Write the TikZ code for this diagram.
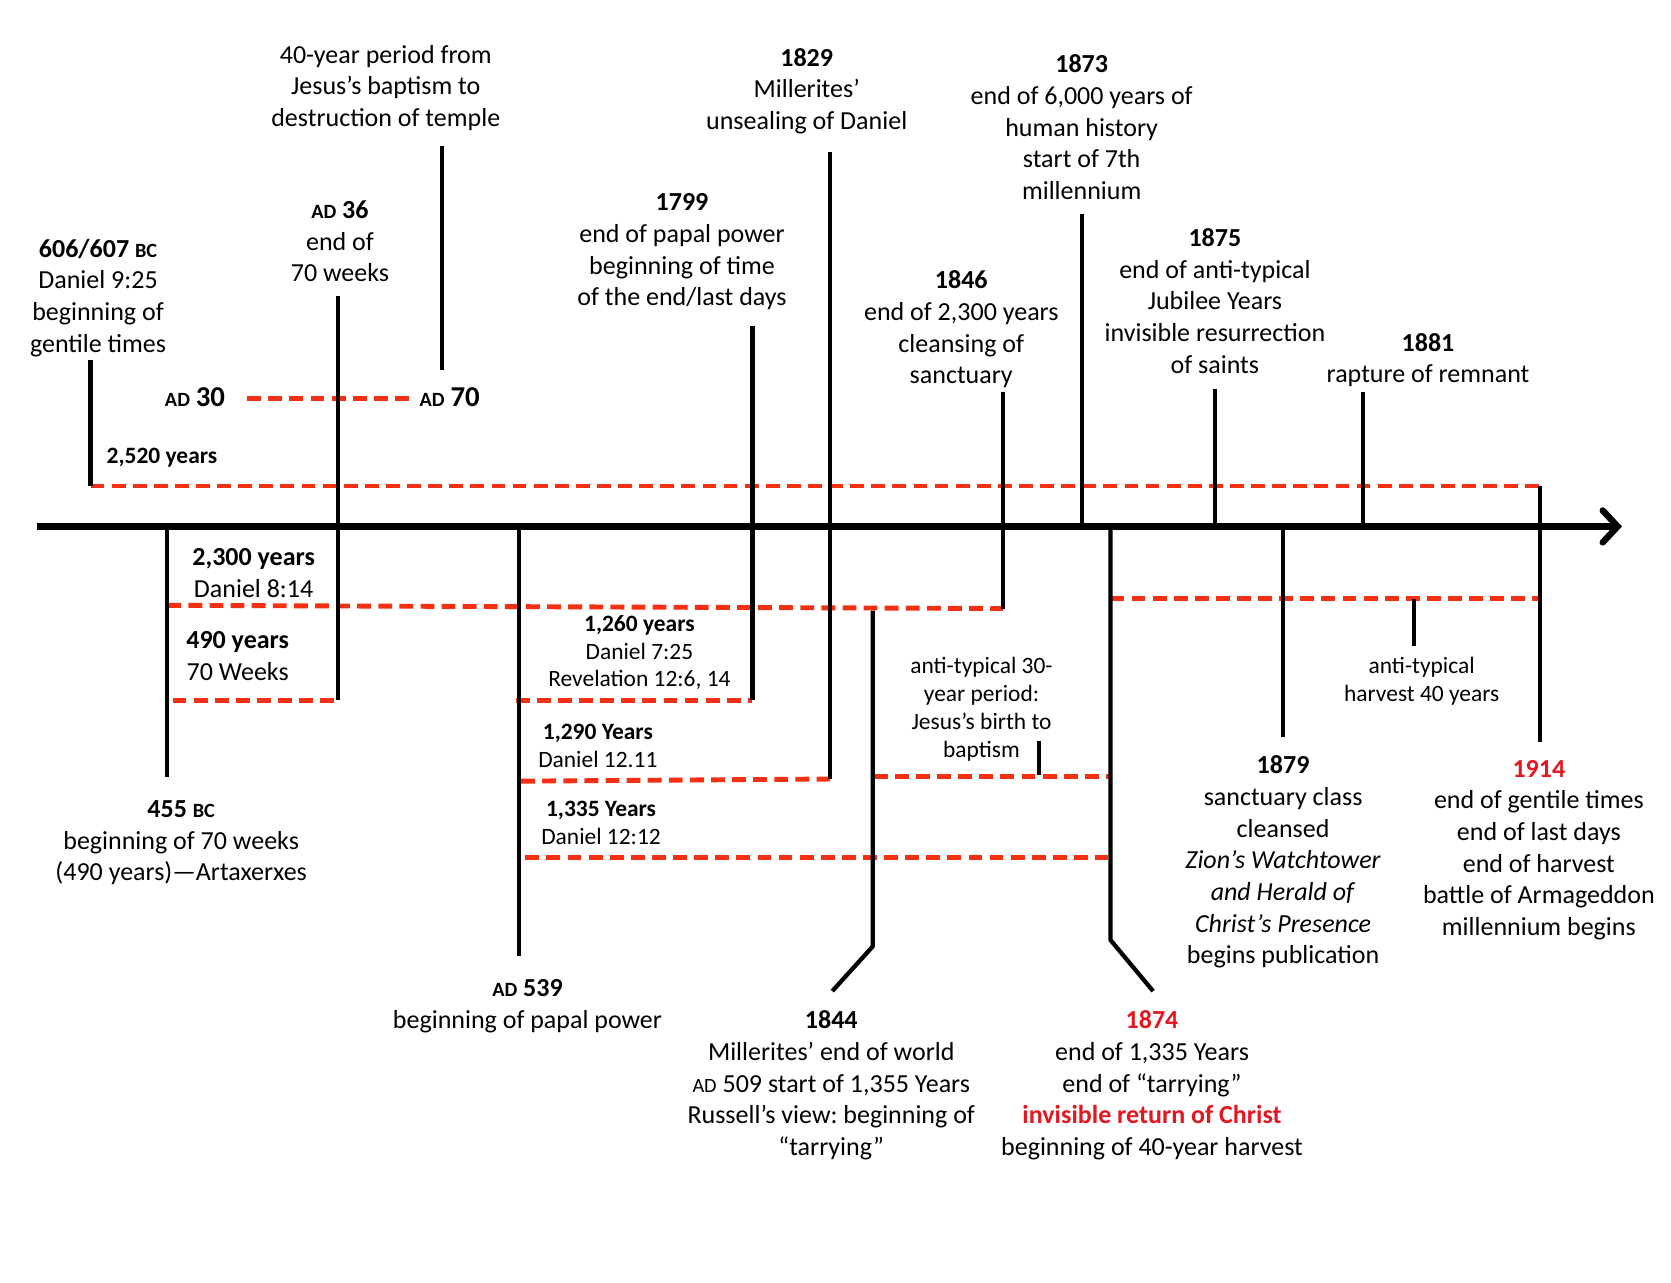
\documentclass[tikz,border=0pt]{standalone}
\usepackage{fontspec}
\setmainfont{Carlito}
\usetikzlibrary{arrows.meta}
\frenchspacing
\definecolor{dashred}{RGB}{245,48,18}
\definecolor{yearred}{RGB}{228,22,32}
\newcommand{\smc}[1]{{\fontsize{9.5}{11}\selectfont #1}}
\newcommand{\bignum}[1]{{\fontsize{13.5}{15}\selectfont #1}}

\begin{document}
\begin{tikzpicture}[x=0.5pt,y=-0.5pt,
  lbl/.style={align=center,font=\fontsize{12.2}{14.85}\selectfont,inner sep=0pt},
  slbl/.style={align=center,font=\fontsize{11}{13}\selectfont,inner sep=0pt},
  tick/.style={line width=2pt},
  span/.style={dashred,line width=2.3pt,dash pattern=on 6.5pt off 3.4pt}]
  \useasboundingbox (0,0) rectangle (1568,1203);
  % ends of the ticks
  \coordinate (a606) at (85,338);   \coordinate (b606) at (85,456);
  \coordinate (a455) at (157,494);  \coordinate (b455) at (157,729);
  \coordinate (a36) at (317,278);   \coordinate (b36) at (317,657);
  \coordinate (a70) at (415,137);   \coordinate (b70) at (415,347);
  \coordinate (a539) at (487,494);  \coordinate (b539) at (487,897);
  \coordinate (a1799) at (706,306); \coordinate (b1799) at (706,657);
  \coordinate (a1829) at (779,143); \coordinate (b1829) at (779,731);
  \coordinate (a1844) at (819,573); \coordinate (k1844) at (819,888); \coordinate (b1844) at (781,930);
  \coordinate (a1846) at (941,368); \coordinate (b1846) at (941,571);
  \coordinate (a1873) at (1015,201);\coordinate (b1873) at (1015,494);
  \coordinate (a1874) at (1042,494);\coordinate (k1874) at (1042,882); \coordinate (b1874) at (1082,930);
  \coordinate (a1875) at (1140,365);\coordinate (b1875) at (1140,494);
  \coordinate (a1879) at (1204,494);\coordinate (b1879) at (1204,692);
  \coordinate (a1881) at (1279,368);\coordinate (b1881) at (1279,494);
  \coordinate (a1914) at (1445,456);\coordinate (b1914) at (1445,696);
  \coordinate (a30y) at (975,695);  \coordinate (b30y) at (975,727);
  \coordinate (a40y) at (1327,562); \coordinate (b40y) at (1327,606);
  \coordinate (axl) at (35,494);    \coordinate (axr) at (1522,494);
  % ends of the spans
  \coordinate (s30) at (232,374);   \coordinate (e30) at (385,374);
  \coordinate (s2300) at (157,568);
  \coordinate (s490) at (162,657);
  \coordinate (s1260) at (484,657);
  \coordinate (s1290) at (489,733);
  \coordinate (s1335) at (493,805); \coordinate (e1335) at (1040,805);
  \coordinate (s30y) at (820,729);  \coordinate (e30y) at (1042,729);
  \coordinate (s40y) at (1042,562); \coordinate (e40y) at (1445,562);

  \draw[span] (s30)--(e30);
  \draw[span] (b606)--(a1914);
  \draw[span] (s2300)--(b1846);
  \draw[span] (s490)--(b36);
  \draw[span] (s1260)--(b1799);
  \draw[span] (s1290)--(b1829);
  \draw[span] (s1335)--(e1335);
  \draw[span] (s30y)--(e30y);
  \draw[span] (s40y)--(e40y);

  \draw[line width=3pt,-{Straight Barb[length=7pt,width=15pt,line cap=round]}] (axl)--(axr);
  \foreach \t in {606,455,36,70,539,1799,1829,1846,1873,1875,1879,1881,1914,30y,40y}
    \draw[tick] (a\t)--(b\t);
  \draw[tick,line join=round] (a1844)--(k1844)--(b1844);
  \draw[tick,line join=round] (a1874)--(k1874)--(b1874);

  \node[lbl] (n606) at (92,279.5) {\textbf{606/607 \smc{BC}}\\Daniel 9:25\\beginning of\\gentile times};
  \node[lbl] (n36) at (319,226.5) {\textbf{\smc{AD} 36}\\end of\\70 weeks};
  \node[lbl] (n40) at (362,82.5) {40-year period from\\Jesus’s baptism to\\destruction of temple};
  \node[lbl] (nad30) at (183,373) {\textbf{\smc{AD} \bignum{30}}};
  \node[lbl] (nad70) at (422,373) {\textbf{\smc{AD} \bignum{70}}};
  \node[slbl] (n2520) at (152,429.5) {\textbf{2,520 years}};
  \node[lbl] (n1799) at (640,236.5) {\textbf{1799}\\end of papal power\\beginning of time\\of the end/last days};
  \node[lbl] (n1829) at (757,85.5) {\textbf{1829}\\Millerites’\\unsealing of Daniel};
  \node[lbl] (n1873) at (1015,119.5) {\textbf{1873}\\end of 6,000 years of\\human history\\start of 7th\\millennium};
  \node[lbl] (n1846) at (902,309) {\textbf{1846}\\end of 2,300 years\\cleansing of\\sanctuary};
  \node[lbl] (n1875) at (1140,282.5) {\textbf{1875}\\end of anti-typical\\Jubilee Years\\invisible resurrection\\of saints};
  \node[lbl] (n1881) at (1340,338) {\textbf{1881}\\rapture of remnant};
  \node[lbl] (n2300) at (238,537.5) {\textbf{2,300 years}\\Daniel 8:14};
  \node[lbl] (n490) at (223,615.5) {\textbf{490 years}\\70 Weeks};
  \node[slbl] (n1260) at (600,612.5) {\textbf{1,260 years}\\Daniel 7:25\\Revelation 12:6, 14};
  \node[slbl] (n1290) at (561,700) {\textbf{1,290 Years}\\Daniel 12.11};
  \node[slbl] (n1335) at (564,772.5) {\textbf{1,335 Years}\\Daniel 12:12};
  \node[slbl] (n30y) at (921,665.5) {anti-typical 30-\\year period:\\Jesus’s birth to\\baptism};
  \node[slbl] (n40y) at (1334,639) {anti-typical\\harvest 40 years};
  \node[lbl] (n455) at (170,791) {\textbf{455 \smc{BC}}\\beginning of 70 weeks\\(490 years)—Artaxerxes};
  \node[lbl] (n539) at (495,944) {\textbf{\smc{AD} 539}\\beginning of papal power};
  \node[lbl] (n1844) at (780,1018.5) {\textbf{1844}\\Millerites’ end of world\\\smc{AD} 509 start of 1,355 Years\\Russell’s view: beginning of\\“tarrying”};
  \node[lbl] (n1874) at (1081,1018.5) {\textbf{\color{yearred}1874}\\end of 1,335 Years\\end of “tarrying”\\\textbf{\color{yearred}invisible return of Christ}\\beginning of 40-year harvest};
  \node[lbl] (n1879) at (1204,809) {\textbf{1879}\\sanctuary class\\cleansed\\\textit{Zion’s Watchtower}\\\textit{and Herald of}\\\textit{Christ’s Presence}\\begins publication};
  \node[lbl] (n1914) at (1444,797.5) {\textbf{\color{yearred}1914}\\end of gentile times\\end of last days\\end of harvest\\battle of Armageddon\\millennium begins};
\end{tikzpicture}
\end{document}
